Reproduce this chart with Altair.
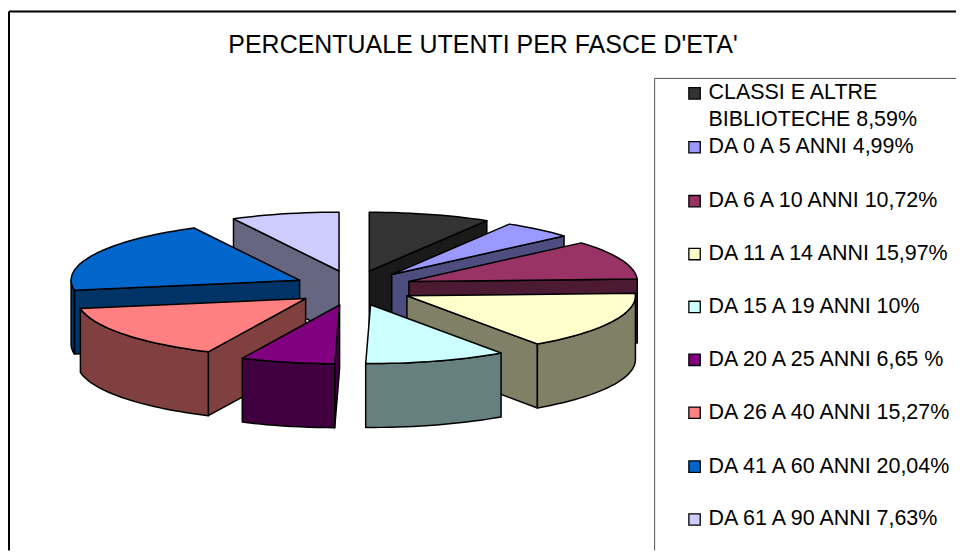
import math
import altair as alt
import pandas as pd

TITLE = "PERCENTUALE UTENTI PER FASCE D'ETA'"
shares = [8.59, 4.99, 10.72, 15.97, 10.0, 6.65, 15.27, 20.04, 7.63]
legend_lines = [
    ["CLASSI E ALTRE", "BIBLIOTECHE 8,59%"],
    ["DA 0 A 5 ANNI 4,99%"],
    ["DA 6 A 10 ANNI 10,72%"],
    ["DA 11 A 14 ANNI 15,97%"],
    ["DA 15 A 19 ANNI 10%"],
    ["DA 20 A 25 ANNI 6,65 %"],
    ["DA 26 A 40 ANNI 15,27%"],
    ["DA 41 A 60 ANNI 20,04%"],
    ["DA 61 A 90 ANNI 7,63%"],
]
top_colors = ["#333333", "#9999FF", "#993366", "#FFFFCC", "#CCFFFF",
              "#800080", "#FF8080", "#0066CC", "#CCCCFF"]
wall_colors = ["#1A1A1A", "#4D4D80", "#4D1A33", "#808066", "#668080",
               "#400040", "#804040", "#003366", "#666680"]
paint_order = [0, 8, 1, 7, 2, 6, 3, 5, 4]

# Pie geometry (pixels inside the chart)
OX, OY = 8, 8
CX, CY = 353 - OX, 288 - OY
RX, RY = 229, 59
EX, EY = 60, 17.5
H = 64


def frange(a, b, step=2.0):
    n = max(1, int(abs(b - a) / step))
    return [a + (b - a) * i / n for i in range(n + 1)]


def poly(points, fill):
    ring = [list(p) for p in points] + [list(points[0])]
    return {
        "type": "Feature",
        "properties": {"fill": fill},
        "geometry": {"type": "Polygon", "coordinates": [ring]},
    }


total = sum(shares)
starts, cum = [], 0.0
for s in shares:
    starts.append(cum)
    cum += s * 360.0 / total

features = []
for i in paint_order:
    a0 = starts[i]
    a1 = a0 + shares[i] * 360.0 / total
    mid = math.radians((a0 + a1) / 2)
    ax = CX + EX * math.sin(mid)
    ay = CY - EY * math.cos(mid)

    def rim(deg, dy=0.0):
        r = math.radians(deg)
        return (ax + RX * math.sin(r), ay - RY * math.cos(r) + dy)

    # radial side walls that face the viewer
    if math.sin(math.radians(a0)) < 0:
        features.append(poly([(ax, ay), rim(a0), rim(a0, H), (ax, ay + H)], wall_colors[i]))
    if math.sin(math.radians(a1)) > 0:
        features.append(poly([(ax, ay), rim(a1), rim(a1, H), (ax, ay + H)], wall_colors[i]))
    # outer curved wall: front half only
    lo, hi = max(a0, 90.0), min(a1, 270.0)
    if hi > lo:
        arc = frange(lo, hi)
        features.append(poly([rim(d) for d in arc] + [rim(d, H) for d in reversed(arc)], wall_colors[i]))
    # top face
    features.append(poly([(ax, ay)] + [rim(d) for d in frange(a0, a1)], top_colors[i]))

W, Ht = 949, 543

pie = (
    alt.Chart(alt.Data(values=features))
    .mark_geoshape(stroke="black", strokeWidth=1.5, strokeJoin="round")
    .encode(fill=alt.Fill("properties.fill:N", scale=None, legend=None))
    .project(type="identity", scale=1, translate=[0, 0])
)


def rule(x1, y1, x2, y2, color, width):
    return (
        alt.Chart(pd.DataFrame({"k": [0]}))
        .mark_rule(color=color, strokeWidth=width)
        .encode(x=alt.value(x1), x2=alt.value(x2), y=alt.value(y1), y2=alt.value(y2))
    )


layers = [
    rule(0, 3, W, 3, "black", 2),
    rule(0, 3, 0, Ht, "black", 2),
    rule(647, 70, W, 70, "#555555", 1),
    rule(647, 70, 647, Ht, "#555555", 1),
    pie,
]

FONT = "Liberation Sans"
layers.append(
    alt.Chart(pd.DataFrame({"t": [TITLE]}))
    .mark_text(font=FONT, fontSize=25, align="center", baseline="middle", color="black")
    .encode(text="t:N", x=alt.value(483 - OX), y=alt.value(45 - OY))
)

row_y = [93, 147, 201, 254, 307, 360, 413, 467, 520]
for i, lines in enumerate(legend_lines):
    y = row_y[i] - OY
    layers.append(
        alt.Chart(pd.DataFrame({"k": [0]}))
        .mark_square(size=130, fill=top_colors[i], stroke="black", strokeWidth=1.3, opacity=1)
        .encode(x=alt.value(695 - OX), y=alt.value(y))
    )
    for j, line in enumerate(lines):
        layers.append(
            alt.Chart(pd.DataFrame({"t": [line]}))
            .mark_text(font=FONT, fontSize=21.5, align="left", baseline="middle", color="black")
            .encode(text="t:N", x=alt.value(709 - OX), y=alt.value(y + j * 27))
        )

chart = (
    alt.layer(*layers)
    .properties(width=W, height=Ht, padding=0, background="white")
    .configure_view(stroke=None)
)
chart.save("out.html", embed_options={"renderer": "svg", "actions": False})
